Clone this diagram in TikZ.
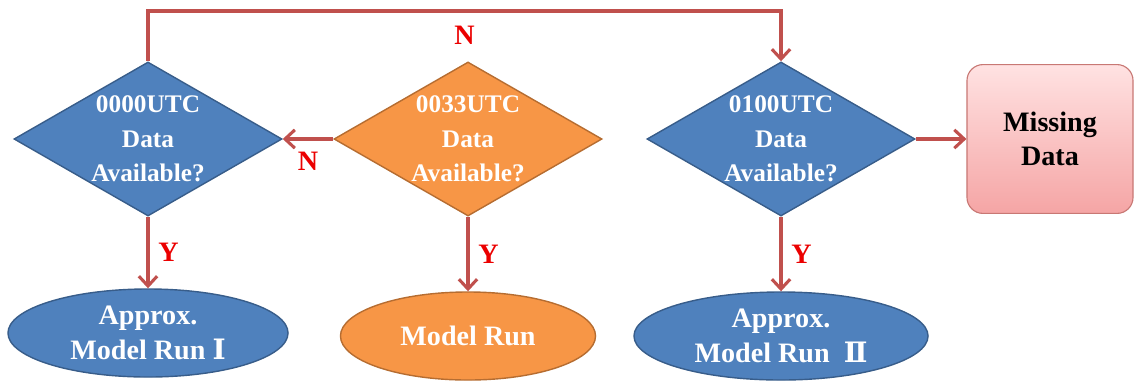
\documentclass[tikz,border=0pt]{standalone}
\usepackage{fontspec}
\setmainfont{Liberation Serif}
\newfontfamily\romfont{DejaVu Serif}
\usepackage{tikz}
\usetikzlibrary{positioning}
\usetikzlibrary{shapes.geometric}
\usetikzlibrary{arrows.meta}
\usepackage{xcolor}
\definecolor{cblue}{HTML}{4F81BD}
\definecolor{cblueline}{HTML}{385D8A}
\definecolor{corange}{HTML}{F79646}
\definecolor{corangeline}{HTML}{B66D31}
\definecolor{carrow}{HTML}{C0504D}
\definecolor{cmisstop}{HTML}{FFE2E2}
\definecolor{cmissbot}{HTML}{F5A5A5}
\definecolor{cmissline}{HTML}{C87874}

\begin{document}
\begin{tikzpicture}[x=0.025cm, y=-0.025cm,
        dia/.style={diamond, draw=#1line, fill=#1, line width=1pt,
            minimum width=6.7cm, minimum height=3.85cm, inner sep=0pt},
        dtext/.style={text=white, font=\bfseries\fontsize{18}{24.5}\selectfont, align=center},
        oval/.style={ellipse, draw=#1line, fill=#1, line width=1pt,
            minimum width=7cm, minimum height=2.2cm, inner sep=0pt,
            text=white, font=\bfseries\fontsize{20}{24.5}\selectfont, align=center},
        miss/.style={rectangle, rounded corners=0.4cm, draw=cmissline, line width=0.8pt,
            top color=cmisstop, bottom color=cmissbot,
            minimum width=4.15cm, minimum height=3.72cm,
            font=\bfseries\fontsize{20}{24}\selectfont, align=center},
        arr/.style={draw=carrow, line width=2.2pt, -{Straight Barb[length=7pt,width=13pt]}},
        yn/.style={text=red!92!black, font=\bfseries\fontsize{20}{22}\selectfont}]
    \useasboundingbox (0,0) rectangle (1135,383);

    % decisions
    \foreach \n/\x/\c/\w in {d1/148/cblue/0000, d2/468/corange/0033, d3/781/cblue/0100}
    {
        \node[dia=\c, label={[dtext]center:\w UTC\\Data\\Available?}] (\n) at (\x,139) {};
    }

    % results
    \node[oval=cblue, minimum width=7cm] (e1) at (148,333) {Approx.\\Model Run {\romfont Ⅰ}};
    \node[oval=corange, minimum width=6.375cm] (e2) at (468,336) {Model Run};
    \node[oval=cblue, minimum width=7.35cm] (e3) at (781,336) {Approx.\\Model Run\ \ {\romfont Ⅱ}};
    \node[miss] (md) at (1050,139) {Missing\\Data};

    % connectors
    \draw[arr] (d2.west) -- node[yn, below=5pt] {N} (d1.east);
    \draw[arr] (d3.east) -- (md.west);
    \draw[arr] (d1.north) -- (d1.north |- 0,11) -- node[yn, below=6pt] {N} (d3.north |- 0,11) -- (d3.north);
    \foreach \a/\b in {d1/e1, d2/e2, d3/e3}
        \draw[arr] (\a.south) -- node[yn, right=3pt] {Y} (\b.north);
\end{tikzpicture}
\end{document}
